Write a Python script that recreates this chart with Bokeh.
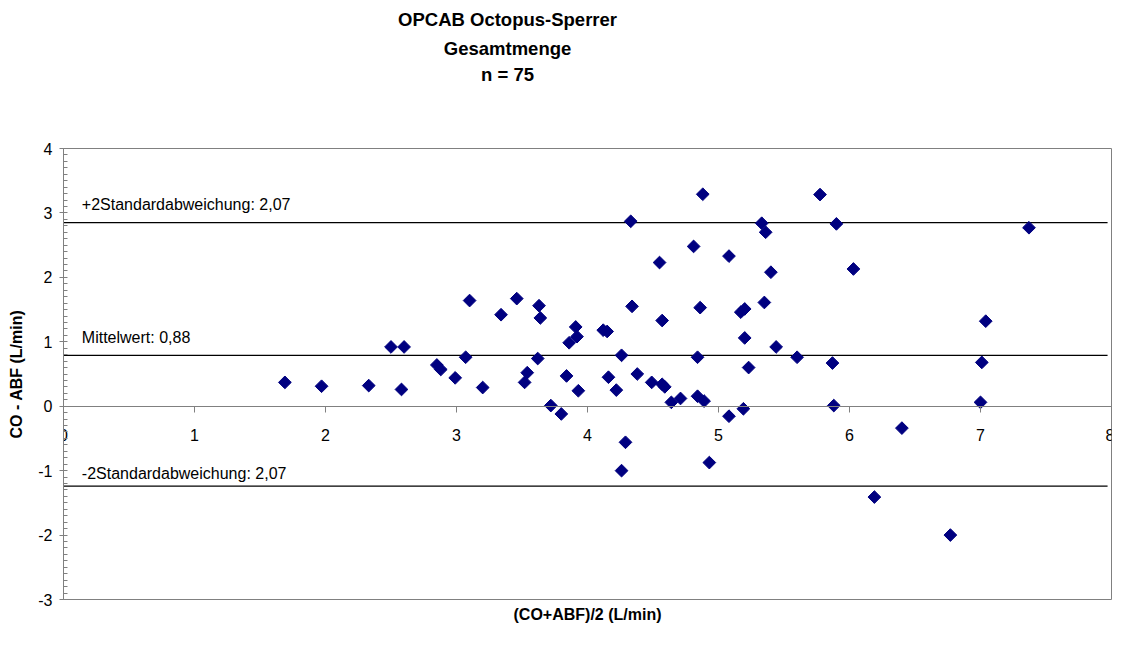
import math
from bokeh.plotting import figure
from bokeh.layouts import column
from bokeh.models import Range1d, LinearAxis, FixedTicker, Label, Title, ColumnDataSource
from bokeh.core.properties import value
from bokeh.embed import file_html
from bokeh.resources import INLINE

# ---- data ----
mean_x = [1.69, 1.97, 2.33, 2.50, 2.60, 2.58, 2.85, 2.88, 2.99, 3.07,
          3.10, 3.20, 3.34, 3.46, 3.54, 3.52, 3.63, 3.64, 3.62, 3.72,
          3.80, 3.84, 3.86, 3.91, 3.92, 3.93, 4.12, 4.15, 4.16, 4.22,
          4.26, 4.33, 4.34, 4.38, 4.49, 4.55, 4.57, 4.57, 4.59, 4.64,
          4.71, 4.81, 4.84, 4.86, 4.88, 4.84, 4.89, 5.08, 5.08, 5.33,
          5.36, 5.40, 5.35, 5.17, 5.20, 5.20, 5.44, 5.60, 5.23, 5.775,
          5.90, 6.03, 5.87, 5.88, 5.19, 7.37, 7.04, 7.01, 7.00, 6.40,
          6.19, 6.77, 4.29, 4.26, 4.93]
diff_y = [0.37, 0.31, 0.32, 0.92, 0.92, 0.26, 0.64, 0.57, 0.44, 0.76,
          1.64, 0.29, 1.42, 1.67, 0.52, 0.37, 1.56, 1.37, 0.74, 0.01,
          -0.12, 0.47, 0.985, 1.23, 1.08, 0.24, 1.18, 1.16, 0.45, 0.25,
          0.79, 2.87, 1.55, 0.50, 0.37, 2.23, 1.33, 0.34, 0.30, 0.06,
          0.12, 2.48, 0.76, 1.53, 3.29, 0.155, 0.08, 2.33, -0.155, 2.84,
          2.70, 2.08, 1.61, 1.46, 1.51, 1.06, 0.92, 0.76, 0.60, 3.285,
          2.83, 2.13, 0.67, 0.01, -0.04, 2.77, 1.32, 0.68, 0.06, -0.34,
          -1.41, -2.00, -0.56, -1.00, -0.875]

x_ticks = [0, 1, 2, 3, 4, 5, 6, 7, 8]
y_ticks = [-3, -2, -1, 0, 1, 2, 3, 4]

limit_texts = ["+2Standardabweichung: 2,07", "Mittelwert: 0,88", "-2Standardabweichung: 2,07"]
limit_values = [2.85, 0.79, -1.24]
limit_label_y = [3.134, 1.063, -1.04]

title_lines = ["OPCAB Octopus-Sperrer", "Gesamtmenge", "n = 75"]
x_label = "(CO+ABF)/2 (L/min)"
y_label = "CO - ABF (L/min)"

FONT = "Liberation Sans"
GRAY = "#808080"
W = 1114

# ---- title strip (its own small figure, pixel coordinates) ----
t = figure(width=W, height=100, output_backend="svg", toolbar_location=None,
           x_range=Range1d(0, W), y_range=Range1d(100, 0),
           x_axis_location=None, y_axis_location=None,
           min_border=0, min_border_left=0, min_border_right=0,
           min_border_top=0, min_border_bottom=0)
t.grid.visible = False
t.outline_line_color = None
t.text(x=[472] * 3, y=[18.5, 47.5, 74], text=title_lines,
       text_font=value(FONT), text_font_size="18.5px", text_font_style="bold",
       text_align="center", text_baseline="middle", text_color="black")

# ---- main chart ----
p = figure(width=W, height=530, output_backend="svg", toolbar_location=None,
           x_range=Range1d(0, 8), y_range=Range1d(-3, 4),
           x_axis_location=None, y_axis_location=None,
           min_border_left=63, min_border_right=3, min_border_top=48, min_border_bottom=31,
           background_fill_color="white", border_fill_color="white")
p.grid.visible = False
p.outline_line_color = GRAY
p.outline_line_width = 1

# y axis
ya = LinearAxis(ticker=FixedTicker(ticks=y_ticks,
                                   minor_ticks=[y / 10 for y in range(-30, 41)]),
                axis_label=y_label)
ya.major_label_overrides = {v: str(v) for v in y_ticks}
ya.axis_line_color = GRAY
ya.major_tick_line_color = GRAY
ya.minor_tick_line_color = GRAY
ya.major_tick_in = 0
ya.major_tick_out = 4
ya.minor_tick_in = 4
ya.minor_tick_out = 0
ya.major_label_standoff = 7
ya.major_label_text_font = FONT
ya.major_label_text_font_size = "16px"
ya.major_label_text_color = "black"
ya.axis_label_text_font = FONT
ya.axis_label_text_font_size = "16px"
ya.axis_label_text_font_style = "bold"
ya.axis_label_text_color = "black"
ya.axis_label_standoff = 10
p.add_layout(ya, "left")

# x axis crossing at y = 0
xa = LinearAxis(ticker=FixedTicker(ticks=x_ticks), fixed_location=0)
xa.major_label_overrides = {v: str(v) for v in x_ticks}
xa.axis_line_color = GRAY
xa.major_tick_line_color = GRAY
xa.major_tick_in = 0
xa.major_tick_out = 6
xa.minor_tick_line_color = None
xa.major_label_standoff = 17
xa.major_label_text_font = FONT
xa.major_label_text_font_size = "16px"
xa.major_label_text_color = "black"
p.add_layout(xa, "below")

# x axis label
p.add_layout(Title(text=x_label, align="center", text_font=FONT, text_color="black",
                   text_font_size="16px", text_font_style="bold", standoff=9), "below")

# limit lines
p.segment(x0=[0] * len(limit_values), x1=[7.97] * len(limit_values),
          y0=limit_values, y1=limit_values, line_color="black", line_width=1.3)
for txt, ly in zip(limit_texts, limit_label_y):
    p.add_layout(Label(x=0.14, y=ly, text=txt, text_font=FONT, text_font_size="16px",
                       text_baseline="alphabetic", text_align="left", text_color="black"))

# points
src = ColumnDataSource(dict(x=mean_x, y=diff_y))
p.scatter("x", "y", source=src, marker="square", size=9, angle=math.pi / 4,
          fill_color="#000080", line_color="#000080")

layout = column(t, p, spacing=0)
open("out.html", "w").write(file_html(layout, INLINE))
